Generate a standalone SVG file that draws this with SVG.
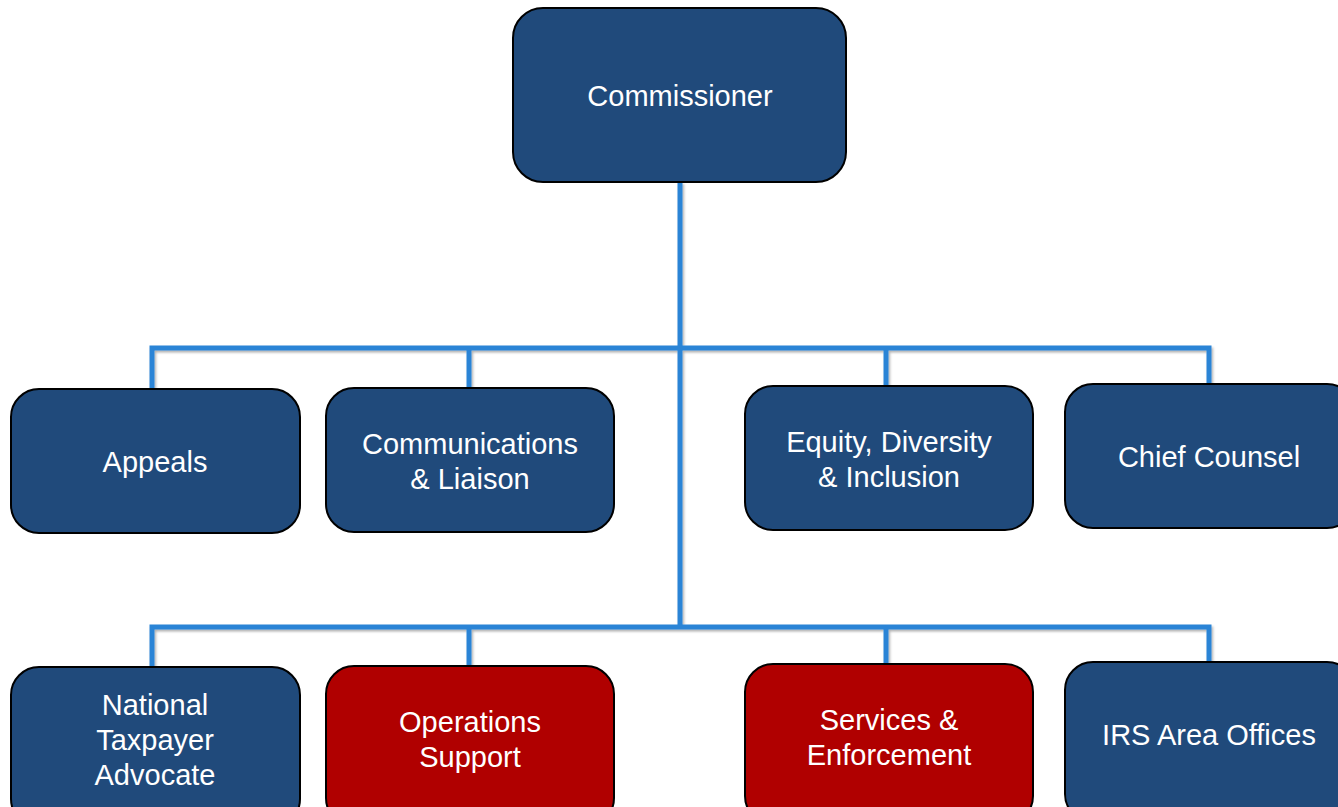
<svg xmlns="http://www.w3.org/2000/svg" width="1338" height="807" viewBox="0 0 1338 807">
<defs>
<filter id="sh" x="-5%" y="-5%" width="110%" height="110%">
<feDropShadow dx="1.5" dy="2" stdDeviation="1.2" flood-color="#000" flood-opacity="0.3"/>
</filter>
<style>
.box{stroke:#000;stroke-width:2}
.blue{fill:#204A7B}
.red{fill:#B00000}
.t{font-family:"Liberation Sans",Arial,sans-serif;font-size:29px;fill:#fff;text-anchor:middle}
.c{fill:none;stroke:#2A84D6;stroke-width:5;stroke-linejoin:miter;stroke-linecap:butt}
</style>
</defs>
<rect width="1338" height="807" fill="#fff"/>
<g id="connectors" filter="url(#sh)">
<path class="c" d="M680,182 V627"/>
<path class="c" d="M152,389 V348 H1209 V384"/>
<path class="c" d="M469,348 V388"/>
<path class="c" d="M886,348 V386"/>
<path class="c" d="M152,667 V627 H1209 V662"/>
<path class="c" d="M469,627 V666"/>
<path class="c" d="M886,627 V664"/>
</g>
<g id="commissioner"><rect class="box blue" x="513" y="8" width="333" height="174" rx="30"/><text class="t" x="680" y="106">Commissioner</text></g>
<g id="appeals"><rect class="box blue" x="11" y="389" width="289" height="144" rx="28"/><text class="t" x="155" y="472">Appeals</text></g>
<g id="communications"><rect class="box blue" x="326" y="388" width="288" height="144" rx="28"/><text class="t" x="470" y="454">Communications</text><text class="t" x="470" y="489">&amp; Liaison</text></g>
<g id="equity"><rect class="box blue" x="745" y="386" width="288" height="144" rx="28"/><text class="t" x="889" y="452">Equity, Diversity</text><text class="t" x="889" y="487">&amp; Inclusion</text></g>
<g id="chief-counsel"><rect class="box blue" x="1065" y="384" width="290" height="144" rx="28"/><text class="t" x="1209" y="467">Chief Counsel</text></g>
<g id="nta"><rect class="box blue" x="11" y="667" width="289" height="160" rx="28"/><text class="t" x="155" y="715">National</text><text class="t" x="155" y="750">Taxpayer</text><text class="t" x="155" y="785">Advocate</text></g>
<g id="operations"><rect class="box red" x="326" y="666" width="288" height="160" rx="28"/><text class="t" x="470" y="732">Operations</text><text class="t" x="470" y="767">Support</text></g>
<g id="services"><rect class="box red" x="745" y="664" width="288" height="160" rx="28"/><text class="t" x="889" y="730">Services &amp;</text><text class="t" x="889" y="765">Enforcement</text></g>
<g id="irs-area"><rect class="box blue" x="1065" y="662" width="290" height="160" rx="28"/><text class="t" x="1209" y="745">IRS Area Offices</text></g>
</svg>
